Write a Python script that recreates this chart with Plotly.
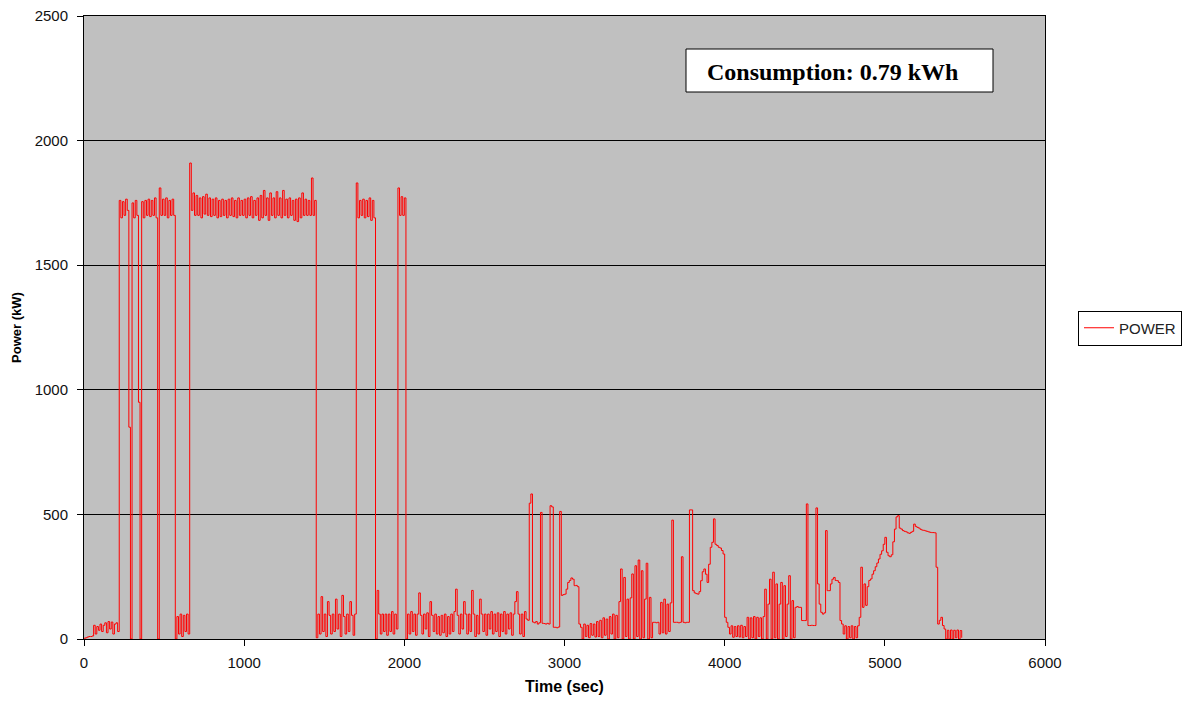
import plotly.graph_objects as go

SAMPLE_SEC = 10  # logger sample interval (s)

# Power readings (kW), one per 10-second sample, rows of 100 s
power = [
    3, 5, 8, 10, 10, 12, 55, 20, 50, 35,                      # 0
    60, 30, 55, 65, 25, 70, 40, 68, 20, 60,                   # 100
    65, 30, 1760, 1690, 1755, 1700, 1765, 1720, 850, 0,       # 200
    1750, 1690, 1760, 1700, 950, 0, 1755, 1690, 1760, 1700,   # 300
    1765, 1695, 1760, 1700, 1770, 1690, 0, 1810, 1700, 1765,  # 400
    1700, 1770, 1690, 1760, 1700, 1765, 1700, 0, 90, 20,      # 500
    100, 10, 95, 30, 100, 20, 1910, 1720, 1790, 1700,         # 600
    1780, 1700, 1770, 1690, 1775, 1705, 1785, 1700, 1770, 1695,  # 700
    1765, 1700, 1770, 1690, 1760, 1695, 1765, 1700, 1760, 1690,  # 800
    1765, 1700, 1770, 1695, 1760, 1690, 1770, 1700, 1760, 1700,  # 900
    1765, 1690, 1770, 1700, 1775, 1690, 1760, 1700, 1770, 1680,  # 1000
    1780, 1690, 1800, 1700, 1770, 1680, 1790, 1700, 1770, 1690,  # 1100
    1795, 1700, 1770, 1690, 1800, 1700, 1765, 1690, 1770, 1700,  # 1200
    1760, 1680, 1765, 1675, 1770, 1690, 1790, 1700, 1765, 1700,  # 1300
    1760, 1700, 1850, 1700, 1760, 5, 100, 20, 170, 30,        # 1400
    100, 10, 150, 95, 20, 100, 30, 160, 40, 100,              # 1500
    10, 175, 90, 20, 100, 30, 150, 95, 15, 100,               # 1600
    1830, 1690, 1760, 1700, 1765, 1690, 1760, 1695, 1770, 1680,  # 1700
    1760, 1690, 0, 195, 100, 20, 100, 30, 100, 15,            # 1800
    100, 30, 110, 20, 100, 40, 1810, 1700, 1775, 1700,        # 1900
    1770, 0, 100, 20, 110, 30, 100, 15, 100, 185,             # 2000
    95, 20, 100, 40, 105, 10, 150, 95, 30, 100,               # 2100
    20, 90, 15, 95, 25, 100, 10, 90, 20, 100,                 # 2200
    30, 110, 200, 95, 20, 100, 40, 150, 100, 20,              # 2300
    100, 30, 195, 100, 10, 95, 20, 160, 100, 30,              # 2400
    100, 15, 100, 40, 110, 20, 100, 30, 105, 10,              # 2500
    100, 30, 110, 20, 100, 40, 105, 15, 100, 150,             # 2600
    190, 100, 20, 100, 10, 110, 80, 75, 545, 582,             # 2700
    68, 65, 70, 60, 65, 508, 63, 62, 60, 63,                  # 2800
    60, 535, 530, 47, 47, 45, 48, 512, 175, 178,              # 2900
    180, 200, 227, 235, 245, 240, 214, 215, 210, 60,          # 3000
    47, 0, 60, 10, 55, 5, 62, 15, 60, 8,                      # 3100
    70, 10, 75, 5, 85, 15, 80, 0, 90, 20,                     # 3200
    100, 0, 95, 5, 150, 281, 0, 247, 10, 160,                 # 3300
    0, 165, 261, 0, 294, 10, 317, 0, 274, 5,                  # 3400
    160, 304, 0, 167, 5, 67, 67, 65, 67, 20,                  # 3500
    147, 25, 160, 20, 140, 30, 145, 477, 67, 67,              # 3600
    67, 65, 67, 330, 67, 65, 67, 67, 518, 518,                # 3700
    194, 185, 182, 180, 190, 234, 270, 281, 260, 227,         # 3800
    300, 368, 388, 482, 380, 375, 368, 365, 355, 341,         # 3900
    87, 67, 47, 20, 53, 7, 50, 10, 53, 8,                     # 4000
    55, 5, 50, 10, 87, 0, 85, 5, 90, 0,                       # 4100
    87, 10, 85, 0, 90, 200, 0, 140, 240, 0,                   # 4200
    268, 5, 221, 0, 140, 227, 0, 214, 10, 140,                # 4300
    254, 0, 154, 5, 127, 130, 127, 127, 74, 74,               # 4400
    74, 542, 54, 54, 55, 54, 54, 526, 221, 140,               # 4500
    107, 100, 105, 435, 194, 194, 221, 240, 247, 235,         # 4600
    234, 227, 74, 60, 20, 53, 0, 50, 5, 53,                   # 4700
    0, 50, 5, 53, 87, 288, 127, 221, 135, 210,                # 4800
    235, 241, 260, 274, 290, 305, 321, 340, 354, 380,         # 4900
    408, 348, 334, 330, 338, 390, 441, 490, 495, 445,         # 5000
    441, 435, 432, 430, 426, 424, 428, 432, 461, 452,         # 5100
    448, 445, 440, 437, 436, 434, 432, 430, 428, 427,         # 5200
    427, 426, 288, 60, 75, 87, 54, 40, 0, 35,                 # 5300
    0, 36, 0, 35, 5, 36, 0, 34, 5,                            # 5400
]
time_sec = [i * SAMPLE_SEC for i in range(len(power))]

x_ticks = [0, 1000, 2000, 3000, 4000, 5000, 6000]
y_ticks = [0, 500, 1000, 1500, 2000, 2500]
series_name = "POWER"
note_text = "Consumption: 0.79 kWh"

fig = go.Figure()
fig.add_trace(go.Scatter(
    x=time_sec, y=power, mode="lines", name=series_name,
    line=dict(color="#FF0000", width=1, shape="hv"),
))

# The page body has an 8 px margin; the figure is sized to fit inside it.
BODY = 8
W, H = 1191 - 2 * BODY, 704 - 2 * BODY
# target plot area in page pixels: left 84, right 1045, top 16, bottom 639
L = 84 - BODY
T = 16 - BODY
R = BODY + W - 1045
B = BODY + H - 639
pw, ph = W - L - R, H - T - B

def px_x(px):
    return (px - BODY - L) / pw

def px_y(py):
    return (BODY + H - B - py) / ph

fig.add_shape(type="rect", xref="paper", yref="paper",
              x0=px_x(686), x1=px_x(993), y0=px_y(92), y1=px_y(49),
              line=dict(color="black", width=1), fillcolor="white", layer="above")
fig.add_annotation(xref="paper", yref="paper", x=px_x(705), y=px_y(72),
                   xanchor="left", yanchor="middle", showarrow=False,
                   text="<b>" + note_text + "</b>",
                   font=dict(family="Liberation Serif", size=24, color="black"))

tick_font = dict(family="Liberation Sans", size=15, color="#111111")
fig.update_layout(
    width=W, height=H,
    margin=dict(l=L, r=R, t=T, b=B, pad=0, autoexpand=False),
    paper_bgcolor="white", plot_bgcolor="#C0C0C0",
    font=tick_font,
    showlegend=True,
    legend=dict(x=px_x(1078), y=px_y(328), xanchor="left", yanchor="middle",
                bgcolor="white", bordercolor="black", borderwidth=1,
                font=dict(family="Liberation Sans", size=15, color="#222222")),
    xaxis=dict(range=[0, 6000], tickvals=x_ticks, ticks="outside", ticklen=6,
               tickcolor="black", showgrid=False, zeroline=False,
               showline=True, linecolor="black", mirror=True, automargin=False,
               tickfont=tick_font, ticklabelstandoff=4,
               ticklabeloverflow="allow",
               title=dict(text="<b>Time (sec)</b>",
                          font=dict(family="Liberation Sans", size=16, color="black"),
                          standoff=10)),
    yaxis=dict(range=[0, 2500], tickvals=y_ticks, ticks="outside", ticklen=6,
               tickcolor="black", showgrid=True, gridcolor="black", gridwidth=1,
               zeroline=False, showline=True, linecolor="black", mirror=True,
               automargin=False,
               tickfont=tick_font, ticklabelstandoff=6,
               ticklabeloverflow="allow",
               title=dict(text="<b>Power (kW)</b>",
                          font=dict(family="Liberation Sans", size=13, color="black"),
                          standoff=10)),
)

fig.write_html("out.html")
